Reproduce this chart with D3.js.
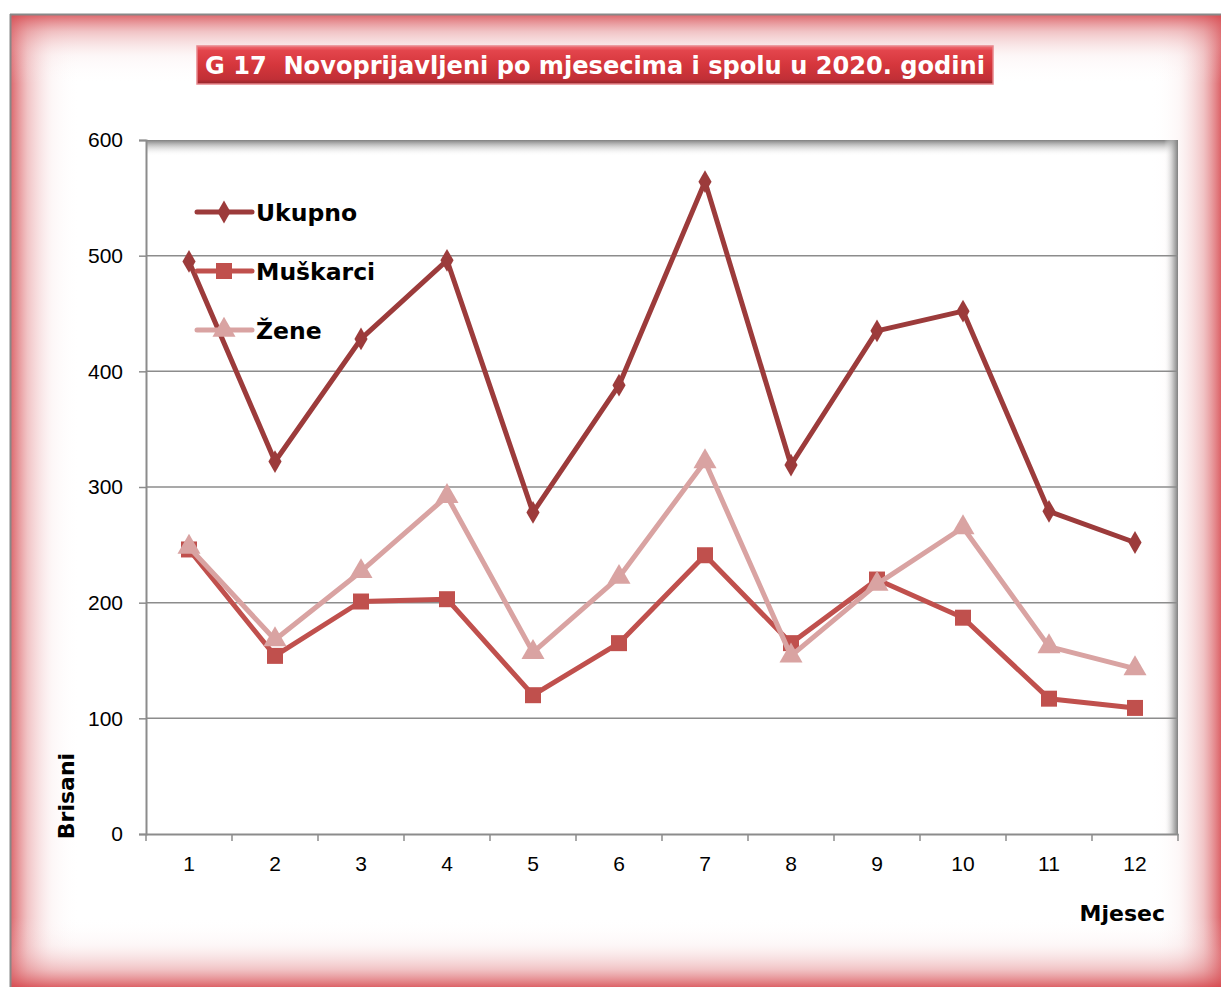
<!DOCTYPE html>
<html><head><meta charset="utf-8">
<script src="https://cdn.jsdelivr.net/npm/d3@7"></script>
<style>html,body{margin:0;padding:0;background:#fff;}svg{display:block;}</style>
</head><body>
<script>
const months = ["1","2","3","4","5","6","7","8","9","10","11","12"];
const ukupno = [495, 322, 428, 496, 278, 388, 564, 319, 435, 452, 279, 252];
const muskarci = [246, 154, 201, 203, 120, 165, 241, 165, 220, 187, 117, 109];
const zene = [248, 168, 227, 292, 157, 222, 322, 154, 216, 265, 162, 143];
const yTicks = [0, 100, 200, 300, 400, 500, 600];
const seriesNames = ["Ukupno", "Muškarci", "Žene"];
const titleText = "G 17  Novoprijavljeni po mjesecima i spolu u 2020. godini";

const W = 1221, H = 987;
const svg = d3.select("body").append("svg").attr("width", W).attr("height", H);
const defs = svg.append("defs");

function lg(id, x1, y1, x2, y2, stops) {
  const g = defs.append("linearGradient").attr("id", id)
    .attr("x1", x1).attr("y1", y1).attr("x2", x2).attr("y2", y2);
  stops.forEach(s => g.append("stop").attr("offset", s[0]).attr("stop-color", s[1]).attr("stop-opacity", s[2]));
}
const glow = [[0, "#d6474d", 0.85], [0.25, "#e07a7e", 0.45], [0.6, "#f2c8ca", 0.15], [1, "#ffffff", 0]];
lg("gL", 0, 0, 1, 0, glow);
lg("gR", 1, 0, 0, 0, glow);
lg("gT", 0, 0, 0, 1, glow);
lg("gB", 0, 1, 0, 0, glow);
lg("title", 0, 0, 0, 1, [[0, "#f07076", 1], [0.12, "#e3454c", 1], [0.5, "#d5363c", 1], [0.88, "#c02f36", 1], [1, "#8f262b", 1]]);
lg("shT", 0, 0, 0, 1, [[0, "#808080", 1], [0.3, "#b0b0b0", 0.8], [1, "#ffffff", 0]]);
lg("shR", 1, 0, 0, 0, [[0, "#808080", 1], [0.3, "#a8a8a8", 0.8], [1, "#ffffff", 0]]);

// Frame
const fx = 10, fy = 14, fw = W - fx, fh = H - fy;
svg.append("rect").attr("x", fx).attr("y", fy).attr("width", fw).attr("height", fh).attr("fill", "#fff");
const gw = 70;
svg.append("rect").attr("x", fx).attr("y", fy).attr("width", gw).attr("height", fh).attr("fill", "url(#gL)");
svg.append("rect").attr("x", W - gw).attr("y", fy).attr("width", gw).attr("height", fh).attr("fill", "url(#gR)");
svg.append("rect").attr("x", fx).attr("y", fy).attr("width", fw).attr("height", gw).attr("fill", "url(#gT)");
svg.append("rect").attr("x", fx).attr("y", H - gw).attr("width", fw).attr("height", gw).attr("fill", "url(#gB)");
svg.append("line").attr("x1", fx).attr("x2", W).attr("y1", fy + 0.5).attr("y2", fy + 0.5).attr("stroke", "#888").attr("stroke-width", 2);
svg.append("line").attr("x1", fx + 0.5).attr("x2", fx + 0.5).attr("y1", fy).attr("y2", H).attr("stroke", "#888").attr("stroke-width", 2);

// Title
const tb = {x: 197, y: 46, w: 796, h: 38};
svg.append("rect").attr("x", tb.x).attr("y", tb.y).attr("width", tb.w).attr("height", tb.h)
  .attr("fill", "url(#title)").attr("stroke", "#e8858a").attr("stroke-width", 1.5);
svg.append("text").attr("x", 205).attr("y", tb.y + 28)
  .attr("font-family", "DejaVu Sans Condensed, DejaVu Sans").attr("font-weight", "bold").attr("font-size", 25)
  .attr("textLength", 780).attr("lengthAdjust", "spacingAndGlyphs")
  .attr("fill", "#fff").attr("xml:space", "preserve").style("white-space", "pre").text(titleText);

// Plot area
const pl = 146, pr = 1178, pt = 140, pb = 834;
const x = d3.scaleBand().domain(months).range([pl, pr]);
const y = d3.scaleLinear().domain([0, 600]).range([pb, pt]);

svg.append("rect").attr("x", pl).attr("y", pt).attr("width", pr - pl).attr("height", 16).attr("fill", "url(#shT)");
svg.append("rect").attr("x", pr - 14).attr("y", pt).attr("width", 14).attr("height", pb - pt).attr("fill", "url(#shR)");

// gridlines
svg.append("g").selectAll("line").data(yTicks.filter(d => d > 0 && d < 600)).join("line")
  .attr("x1", pl).attr("x2", pr).attr("y1", d => y(d)).attr("y2", d => y(d))
  .attr("stroke", "#8c8c8c").attr("stroke-width", 1.5);

// y axis
const yAxis = svg.append("g").attr("transform", `translate(${pl},0)`)
  .call(d3.axisLeft(y).tickValues(yTicks).tickSize(7).tickPadding(16));
yAxis.select(".domain").attr("stroke", "#8c8c8c").attr("stroke-width", 2);
yAxis.selectAll(".tick line").attr("stroke", "#8c8c8c").attr("stroke-width", 1.5);
yAxis.selectAll("text").attr("font-family", "Liberation Sans, Arial").attr("font-size", 21).attr("fill", "#000");

// x axis
const xAxis = svg.append("g").attr("transform", `translate(0,${pb})`)
  .call(d3.axisBottom(x).tickSize(0).tickPadding(22));
xAxis.select(".domain").attr("stroke", "#8c8c8c").attr("stroke-width", 2);
xAxis.selectAll("text").attr("font-family", "Liberation Sans, Arial").attr("font-size", 21).attr("fill", "#000");
svg.append("g").selectAll("line").data(months).join("line")
  .attr("x1", d => x(d)).attr("x2", d => x(d)).attr("y1", pb).attr("y2", pb + 7)
  .attr("stroke", "#8c8c8c").attr("stroke-width", 1.5);
svg.append("line").attr("x1", pr).attr("x2", pr).attr("y1", pb).attr("y2", pb + 7)
  .attr("stroke", "#8c8c8c").attr("stroke-width", 1.5);

// axis titles
svg.append("text").attr("transform", `translate(74,${796}) rotate(-90)`).attr("text-anchor", "middle")
  .attr("font-family", "DejaVu Sans").attr("font-weight", "bold").attr("font-size", 22).text("Brisani");
svg.append("text").attr("x", 1165).attr("y", 921).attr("text-anchor", "end")
  .attr("font-family", "DejaVu Sans").attr("font-weight", "bold").attr("font-size", 22).text("Mjesec");

// series
const cx = d => x(d) + x.bandwidth() / 2;
const series = [
  {name: seriesNames[0], values: ukupno, color: "#9c3b3b", sym: d3.symbolDiamond, size: 150},
  {name: seriesNames[1], values: muskarci, color: "#c0504d", sym: d3.symbolSquare, size: 256},
  {name: seriesNames[2], values: zene, color: "#d9a3a2", sym: d3.symbolTriangle, size: 230}
];
const line = d3.line().x(d => cx(d[0])).y(d => y(d[1]));
series.forEach(s => {
  const pts = months.map((m, i) => [m, s.values[i]]);
  const g = svg.append("g");
  g.append("path").attr("d", line(pts)).attr("fill", "none").attr("stroke", s.color)
    .attr("stroke-width", 5).attr("stroke-linejoin", "round");
  g.selectAll("path.m").data(pts).join("path").attr("class", "m")
    .attr("d", d3.symbol().type(s.sym).size(s.size))
    .attr("transform", d => `translate(${cx(d[0])},${y(d[1])})`)
    .attr("fill", s.color);
});

// legend
const legY = [212, 271, 330];
series.forEach((s, i) => {
  const g = svg.append("g").attr("transform", `translate(0,${legY[i]})`);
  g.append("line").attr("x1", 197).attr("x2", 252).attr("y1", 0).attr("y2", 0)
    .attr("stroke", s.color).attr("stroke-width", 5).attr("stroke-linecap", "round");
  g.append("path").attr("d", d3.symbol().type(s.sym).size(s.size)).attr("transform", "translate(224,0)").attr("fill", s.color);
  g.append("text").attr("x", 256).attr("y", 9).attr("font-family", "DejaVu Sans").attr("font-weight", "bold")
    .attr("font-size", 23.5).attr("fill", "#000").text(s.name);
});
</script>
</body></html>
